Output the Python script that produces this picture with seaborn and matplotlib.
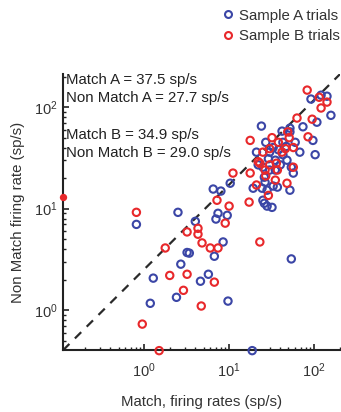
import matplotlib
matplotlib.use("Agg")
import matplotlib.pyplot as plt
from matplotlib.lines import Line2D
import pandas as pd
import seaborn as sns

# Sample A trials (blue): match vs non-match firing rates (sp/s)
match_a = [92, 121, 142, 158, 108, 74, 24, 42, 52, 27, 43, 97, 68, 103,
           6.5, 8.0, 7.4, 9.5, 7.0, 0.81, 2.5, 4.0, 3.2, 3.4, 8.5, 6.7, 2.7,
           1.28, 5.7, 4.6, 2.4, 1.18, 9.7, 18.7, 54, 10.3, 19.2, 25, 26, 28,
           32, 33, 37, 28, 52, 26, 26.5, 54, 57, 25, 30, 35, 33, 60, 52, 38,
           43, 29, 35, 48, 40, 22, 21, 47, 30, 24.4]
nonmatch_a = [120, 131, 128, 83, 71, 64, 65, 58, 57, 45, 45, 47, 36, 34,
              15.6, 14.9, 9.0, 8.6, 7.9, 7.0, 9.2, 7.5, 3.7, 3.65, 4.7, 3.4,
              2.84, 2.07, 2.26, 1.93, 1.34, 1.17, 1.23, 0.40, 3.2, 17.8, 15.9,
              12.1, 11.3, 10.6, 10.3, 16.7, 16.3, 15.2, 15.2, 20.4, 18.2, 25.6,
              22.4, 25.6, 24, 24, 40, 45, 62, 38, 34, 31, 30, 30, 27, 27, 36,
              41, 36, 15.9]

# Sample B trials (red)
match_b = [83, 115, 142, 121, 95, 17.7, 85, 11.1, 17.7, 7.2, 10, 9.0, 0.81,
           3.2, 4.3, 4.3, 1.77, 4.8, 6.0, 7.4, 2.0, 3.2, 6.7, 2.9, 4.7, 0.95,
           1.5, 23, 17.2, 21, 48, 35, 57, 23, 49, 25, 22, 57, 32, 38, 46, 30,
           26.5, 36, 27, 42, 29, 63, 30, 37, 51]
nonmatch_b = [147, 125, 112, 98, 76, 47, 51, 22.4, 22.4, 12.1, 10.6, 7.2, 9.2,
              5.9, 6.4, 5.6, 4.1, 4.6, 4.1, 4.1, 2.2, 2.26, 1.89, 1.57, 1.1,
              0.73, 0.40, 4.7, 11.6, 17.1, 17.8, 19.1, 25.6, 28, 57, 36, 29,
              40, 50, 45, 39, 27, 24, 28, 21, 36, 13.5, 78, 39, 24, 50]

# unit with zero match rate, drawn on the y axis
zero_match_b = [0.111]
zero_nonmatch_b = [13.0]

summary = ["Match A = 37.5 sp/s", "Non Match A = 27.7 sp/s",
           "Match B = 34.9 sp/s", "Non Match B = 29.0 sp/s"]

xlim = (0.111, 202)
ylim = (0.404, 211)
blue = "#3b46a6"
red = "#e8282b"

sns.set_style("ticks")
plt.rcParams["font.family"] = ["Liberation Sans", "DejaVu Sans"]
plt.rcParams["mathtext.default"] = "regular"

df_a = pd.DataFrame({"match": match_a, "nonmatch": nonmatch_a})
df_b = pd.DataFrame({"match": match_b, "nonmatch": nonmatch_b})

fig = plt.figure(figsize=(3.41, 4.12), dpi=100)
ax = fig.add_axes([0.185, 0.150, 0.812, 0.670])
ax.set_xscale("log")
ax.set_yscale("log")

# diagonal reference line, corner to corner
ax.plot(xlim, ylim, ls=(0, (4, 3.5)), color="#2a2a2a", lw=1.6, zorder=1)

sns.scatterplot(data=df_a, x="match", y="nonmatch", ax=ax, color=blue,
                marker="o", s=28, facecolor="none", edgecolor=blue,
                linewidth=1.5, clip_on=False, zorder=3)
sns.scatterplot(data=df_b, x="match", y="nonmatch", ax=ax, color=red,
                marker="o", s=28, facecolor="none", edgecolor=red,
                linewidth=1.5, clip_on=False, zorder=3)
ax.scatter(zero_match_b, zero_nonmatch_b, s=28, color=red, clip_on=False,
           zorder=3, lw=0)

ax.set_xlim(*xlim)
ax.set_ylim(*ylim)
sns.despine(ax=ax)
for sp in ["left", "bottom"]:
    ax.spines[sp].set_linewidth(1.5)
    ax.spines[sp].set_color("#222222")
ax.tick_params(which="major", direction="in", length=4, width=1.2,
               colors="#222222", labelsize=10.5, labelcolor="#333333")
ax.tick_params(which="minor", direction="in", length=2.5, width=1.0,
               colors="#222222")
ax.tick_params(axis="x", which="major", pad=8)
ax.tick_params(axis="y", which="major", pad=4)

ax.set_xlabel("Match, firing rates (sp/s)", fontsize=10.8, color="#333333",
              labelpad=11)
ax.set_ylabel("Non Match firing rate (sp/s)", fontsize=10.8, color="#333333",
              labelpad=6)

ypos = [0.978, 0.913, 0.779, 0.714]
for s, yy in zip(summary, ypos):
    ax.text(0.01, yy, s, transform=ax.transAxes, fontsize=10.8, va="center",
            ha="left", color="#222222")

handles = [Line2D([], [], ls="none", marker="o", ms=5, mfc="none", mec=blue,
                  mew=1.5),
           Line2D([], [], ls="none", marker="o", ms=5, mfc="none", mec=red,
                  mew=1.5)]
fig.legend(handles, ["Sample A trials", "Sample B trials"], loc="upper left",
           bbox_to_anchor=(0.612, 1.012), frameon=False, fontsize=10.8,
           handlelength=0.8, handletextpad=0.3, labelspacing=0.45,
           labelcolor="#333333")

fig.savefig("out.png", dpi=100)
